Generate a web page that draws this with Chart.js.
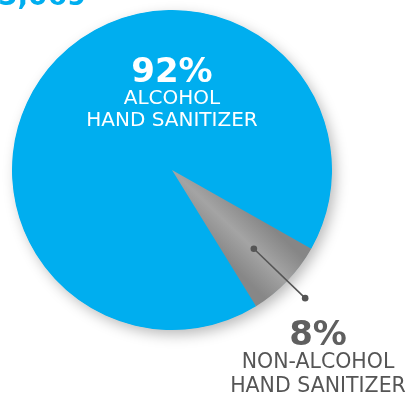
<!DOCTYPE html>
<html>
<head>
<meta charset="utf-8">
<style>
html,body{margin:0;padding:0;background:#fff;}
#wrap{position:relative;width:409px;height:393px;}
</style>
<script src="https://cdn.jsdelivr.net/npm/chart.js@4"></script>
</head>
<body>
<div id="wrap"><canvas id="c" width="409" height="393"></canvas></div>
<script>
const categories = ["ALCOHOL HAND SANITIZER", "NON-ALCOHOL HAND SANITIZER"];
const labelLines = [["ALCOHOL", "HAND SANITIZER"], ["NON-ALCOHOL", "HAND SANITIZER"]];
const values = [92, 8];
const pctLabels = ["92%", "8%"];
const headline = "5,069";
const colors = ["#00AEEF", "#959595"];

const ROT = 148.3; // degrees, start angle from 12 o'clock

function sliceColor(ctx) {
  if (ctx.dataIndex === 0) return colors[0];
  const chart = ctx.chart;
  const a = chart.chartArea;
  if (!a || !isFinite(a.left)) return colors[1];
  const cx = (a.left + a.right) / 2, cy = (a.top + a.bottom) / 2;
  const r = Math.min(a.right - a.left, a.bottom - a.top) / 2;
  const total = values.reduce((s, v) => s + v, 0);
  const start = (ROT - 90) * Math.PI / 180 + values[0] / total * 2 * Math.PI;
  const end = start + values[1] / total * 2 * Math.PI;
  const g = chart.ctx.createLinearGradient(
    cx + 0.7 * r * Math.cos(start), cy + 0.7 * r * Math.sin(start),
    cx + 0.7 * r * Math.cos(end), cy + 0.7 * r * Math.sin(end));
  g.addColorStop(0, "#868686");
  g.addColorStop(0.5, "#a4a4a4");
  g.addColorStop(1, "#878787");
  return g;
}

const shadowPlugin = {
  id: "shadow",
  beforeDatasetsDraw(chart) {
    const arc = chart.getDatasetMeta(0).data[0];
    if (!arc) return;
    const ctx = chart.ctx;
    ctx.save();
    ctx.shadowColor = "rgba(0,0,0,0.28)";
    ctx.shadowBlur = 14;
    ctx.shadowOffsetX = 4;
    ctx.shadowOffsetY = 5;
    ctx.beginPath();
    ctx.arc(arc.x, arc.y, arc.outerRadius - 0.5, 0, Math.PI * 2);
    ctx.fillStyle = colors[0];
    ctx.fill();
    ctx.restore();
  }
};

const labelPlugin = {
  id: "labels",
  afterDatasetsDraw(chart) {
    const meta = chart.getDatasetMeta(0);
    const a0 = meta.data[0], a1 = meta.data[1];
    const ctx = chart.ctx;
    const cx = a0.x, cy = a0.y, r = a0.outerRadius;
    ctx.save();
    ctx.textAlign = "center";
    ctx.textBaseline = "alphabetic";
    // blue slice label
    ctx.fillStyle = "#ffffff";
    ctx.font = "bold 34px 'DejaVu Sans'";
    ctx.fillText(pctLabels[0], cx, cy - 88);
    ctx.font = "normal 20px 'DejaVu Sans'";
    ctx.fillText(labelLines[0][0], cx, cy - 66);
    ctx.fillText(labelLines[0][1], cx, cy - 44);
    // leader line for gray slice
    const mid = (a1.startAngle + a1.endAngle) / 2;
    const p1 = {x: cx + 0.71 * r * Math.cos(mid), y: cy + 0.71 * r * Math.sin(mid)};
    const p2 = {x: cx + 1.155 * r * Math.cos(mid), y: cy + 1.155 * r * Math.sin(mid)};
    ctx.strokeStyle = "#555555";
    ctx.lineWidth = 1.6;
    ctx.beginPath(); ctx.moveTo(p1.x, p1.y); ctx.lineTo(p2.x, p2.y); ctx.stroke();
    ctx.fillStyle = "#555555";
    ctx.beginPath(); ctx.arc(p1.x, p1.y, 3.3, 0, Math.PI * 2); ctx.fill();
    ctx.beginPath(); ctx.arc(p2.x, p2.y, 3.3, 0, Math.PI * 2); ctx.fill();
    // gray slice label
    ctx.fillStyle = "#5f5f5f";
    ctx.font = "bold 34px 'DejaVu Sans'";
    ctx.fillText(pctLabels[1], cx + 146, cy + 175);
    ctx.fillStyle = "#555555";
    ctx.font = "normal 20.5px 'DejaVu Sans'";
    ctx.fillText(labelLines[1][0], cx + 146, cy + 198);
    ctx.fillText(labelLines[1][1], cx + 146, cy + 222);
    // cropped headline at top
    ctx.textAlign = "left";
    ctx.fillStyle = colors[0];
    ctx.font = "bold 28px 'DejaVu Sans'";
    ctx.fillText(headline, -2, 5);
    ctx.restore();
  }
};

new Chart(document.getElementById("c"), {
  type: "pie",
  data: {
    labels: categories,
    datasets: [{
      data: values,
      backgroundColor: sliceColor,
      borderWidth: 0
    }]
  },
  options: {
    responsive: false,
    animation: false,
    rotation: ROT,
    layout: {padding: {left: 12, right: 77, top: 10, bottom: 63}},
    plugins: {legend: {display: false}, tooltip: {enabled: false}}
  },
  plugins: [shadowPlugin, labelPlugin]
});
</script>
</body>
</html>
